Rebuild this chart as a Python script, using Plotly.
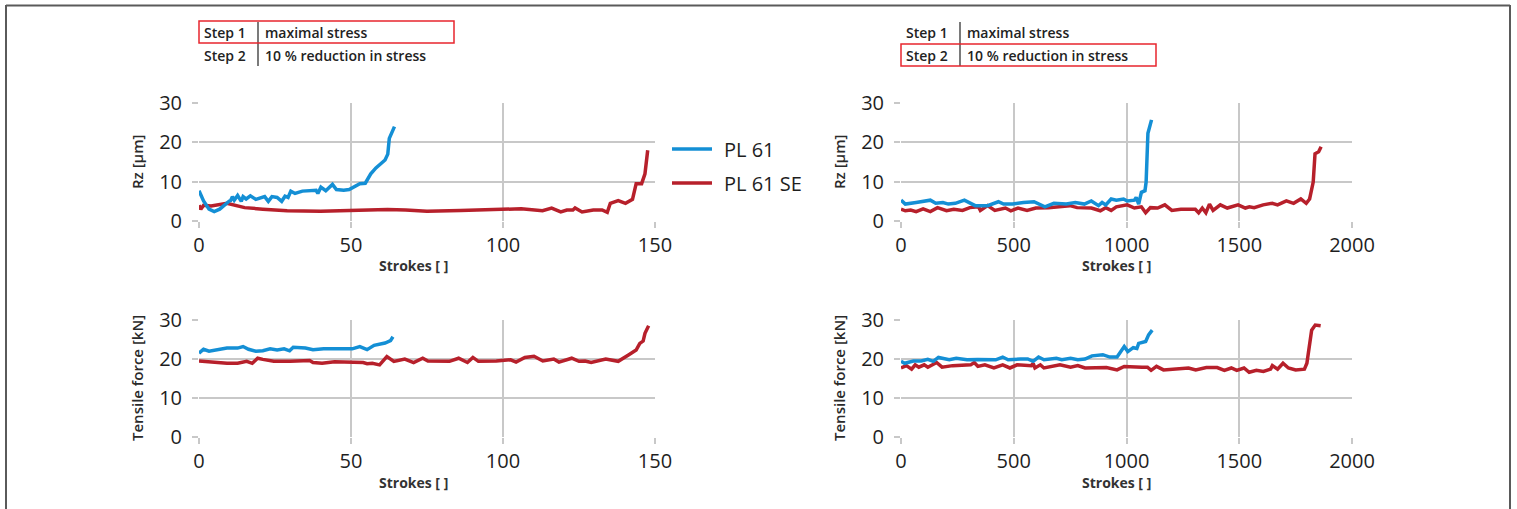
import plotly.graph_objects as go

W, H = 1517, 509
BLUE = "#148fd5"
RED = "#b7202b"
GRID = "#c8c8c8"
TXT = "#1e1e1e"
FONT = "Open Sans"

# ---------------- data: Step 1 (maximal stress) ----------------
rz1_pl61_x = [0, 1.5, 3.3, 5, 6.8, 8.6, 10, 10.4, 11.0, 11.6, 12.7, 13.9, 14.5, 15.5, 16.9, 18.7, 20.5, 21.6,
              22.8, 24, 25.7, 27.2, 28.3, 29.3, 30.2, 31.6, 34, 36.4, 38.5, 39.1, 40.1, 41.7, 43.9, 45.2,
              47.6, 49.4, 51.7, 52.9, 54.7, 56.5, 58.2, 61.2, 62.1, 62.6, 64.3]
rz1_pl61_y = [7.7, 5.1, 3.0, 2.4, 3.0, 4.3, 5.1, 5.2, 6.2, 5.3, 6.5, 5.0, 6.2, 5.6, 6.4, 5.5, 5.8, 6.2,
              5.0, 6.2, 6.0, 5.0, 6.3, 6.0, 7.6, 7.0, 7.6, 7.8, 7.8, 7.0, 8.6, 7.7, 9.3, 8.0,
              7.8, 8.0, 9.0, 9.5, 9.6, 12.0, 13.5, 15.5, 17.0, 21.0, 24.0]

rz1_se_x = [0, 0.6, 1.5, 4, 9.2, 15, 21, 29, 40, 50, 56, 62, 68, 75, 86, 92, 100, 106, 113, 116, 119,
            121, 123, 123.7, 126, 129.7, 132.6, 134.3, 135.3, 137.9, 140.3, 142.6, 143.8, 145.6, 146.7, 147.6]
rz1_se_y = [4.0, 3.0, 4.0, 3.8, 4.5, 3.4, 3.0, 2.6, 2.5, 2.7, 3.0, 2.9, 2.8, 2.5, 2.7, 2.8, 3.1, 3.1, 2.6, 3.3, 2.3,
            2.8, 2.8, 3.3, 2.3, 2.8, 2.8, 2.2, 4.5, 5.2, 4.5, 5.5, 9.5, 9.5, 12.0, 18.0]

tf1_pl61_x = [0, 1.5, 3.3, 4.5, 6.8, 9.2, 12.7, 14.5, 16.3, 18.7, 21, 23.4, 25.7, 28, 29.8, 31, 35,
              37.5, 41, 44.6, 48, 50.4, 52.9, 55.3, 57.6, 61.2, 63, 63.8]
tf1_pl61_y = [21.5, 22.5, 22.0, 22.2, 22.5, 22.8, 22.8, 23.2, 22.5, 22.0, 22.1, 22.6, 22.3, 22.6, 22.1, 23.0, 22.8,
              22.4, 22.6, 22.6, 22.5, 22.6, 23.2, 22.4, 23.5, 24.1, 24.7, 25.7]

tf1_se_x = [0, 4.5, 9.2, 12.7, 15.7, 17.5, 19.3, 21, 24.6, 30, 36.4, 37.5, 40.5, 44.6, 49.4, 54, 55.3, 57,
            59.4, 61.8, 64.1, 67.7, 70.6, 73.6, 75.3, 80, 82.4, 85.4, 88.3, 90.1, 91.9, 97.8, 102.5, 104.3,
            107.2, 110.2, 113.1, 116.7, 118.4, 122.6, 125, 127, 129, 133.8, 137.9, 141.4, 143.8, 145, 146.1,
            146.7, 147.9]
tf1_se_y = [19.5, 19.2, 18.9, 18.9, 19.4, 18.9, 20.2, 19.9, 19.4, 19.4, 19.6, 19.1, 18.9, 19.3, 19.1, 19.1, 18.8, 18.9,
            18.5, 20.6, 19.4, 20.0, 19.1, 20.2, 19.5, 19.4, 19.4, 20.2, 19.1, 20.4, 19.4, 19.5, 19.8, 19.2,
            20.4, 20.7, 19.5, 20.0, 19.2, 20.2, 19.4, 19.5, 19.1, 20.0, 19.4, 21.1, 22.3, 24.0, 24.6,
            26.6, 28.5]

# ---------------- data: Step 2 (10 % reduction in stress) ----------------
rz2_pl61_x = [0, 19, 67, 114, 130, 154, 186, 210, 241, 281, 305, 329, 384, 432, 455, 495, 543, 590, 638, 678,
              733, 773, 813, 844, 876, 892, 908, 932, 955, 987, 1003, 1035, 1043, 1054, 1066, 1082, 1087, 1095, 1111]
rz2_pl61_y = [5.3, 4.3, 4.7, 5.1, 5.3, 4.5, 4.7, 4.3, 4.5, 5.3, 4.7, 3.9, 3.9, 4.9, 4.3, 4.3, 4.7, 4.9, 3.6, 4.5,
              4.3, 4.7, 4.3, 5.1, 3.9, 4.7, 4.1, 5.6, 5.3, 5.6, 5.1, 5.3, 6.0, 4.3, 7.3, 7.7, 9.9, 22.3, 25.7]

rz2_se_x = [0, 19, 43, 67, 98, 130, 162, 202, 234, 273, 305, 344, 352, 384, 416, 463, 487, 519, 559, 598, 654,
            717, 749, 781, 844, 884, 908, 932, 955, 1003, 1035, 1066, 1085, 1106, 1138, 1170, 1201, 1241, 1305,
            1320, 1336, 1352, 1368, 1384, 1416, 1447, 1495, 1527, 1545, 1566, 1606, 1646, 1670, 1709, 1741,
            1773, 1797, 1812, 1828, 1836, 1852, 1863]
rz2_se_y = [3.0, 2.6, 2.8, 2.4, 3.1, 2.4, 3.4, 2.6, 3.0, 2.7, 3.4, 3.6, 2.7, 3.9, 2.7, 3.3, 2.6, 3.3, 2.7, 3.3, 3.4,
            3.6, 3.9, 3.4, 3.3, 2.6, 3.4, 2.7, 3.6, 4.1, 3.3, 3.6, 2.1, 3.4, 3.3, 4.1, 2.7, 3.0, 3.0,
            2.1, 3.3, 2.1, 4.3, 2.7, 4.1, 3.3, 4.1, 3.3, 3.6, 3.4, 4.1, 4.5, 4.1, 5.1, 4.5,
            5.6, 4.5, 5.6, 9.9, 17.1, 17.6, 18.9]

tf2_pl61_x = [0, 16, 55, 90, 119, 143, 166, 214, 245, 293, 340, 420, 451, 475, 530, 562, 586, 610, 634, 689,
              713, 752, 784, 816, 847, 895, 926, 958, 990, 1006, 1030, 1046, 1054, 1085, 1098, 1114]
tf2_pl61_y = [19.4, 18.9, 19.5, 19.5, 19.9, 19.4, 20.4, 19.8, 20.2, 19.8, 19.9, 19.8, 20.5, 19.8, 20.0, 20.0, 19.4, 20.5, 19.8, 20.2,
              19.8, 20.2, 19.8, 20.0, 20.8, 21.1, 20.5, 20.5, 23.2, 21.9, 22.9, 22.7, 24.0, 24.5, 26.2, 27.4]

tf2_se_x = [0, 24, 47, 63, 79, 103, 119, 158, 182, 229, 309, 325, 341, 372, 412, 451, 483, 515, 578, 586, 594,
            618, 634, 689, 705, 752, 784, 816, 911, 958, 990, 1069, 1093, 1109, 1133, 1164, 1228, 1275, 1307,
            1354, 1402, 1434, 1465, 1489, 1521, 1544, 1576, 1607, 1639, 1647, 1670, 1694, 1718, 1750, 1789,
            1800, 1821, 1837, 1861]
tf2_se_y = [17.7, 18.3, 17.4, 18.5, 17.9, 18.5, 17.9, 19.1, 17.9, 18.3, 18.5, 19.1, 18.1, 18.5, 17.7, 18.5, 17.7, 18.5, 18.3, 18.9, 17.7,
            18.5, 17.7, 18.3, 18.5, 17.9, 18.3, 17.7, 17.8, 17.2, 18.1, 17.9, 17.9, 17.1, 18.1, 17.2, 17.4, 17.7, 17.2,
            17.8, 17.8, 17.1, 17.7, 17.1, 17.7, 16.6, 17.1, 16.8, 17.4, 18.3, 17.4, 18.9, 17.7, 17.2, 17.4,
            18.9, 27.4, 28.7, 28.5]

names = ["PL 61", "PL 61 SE"]
colors = [BLUE, RED]
step_rows = [("Step 1", "maximal stress"), ("Step 2", "10 % reduction in stress")]
y_ticks = [0, 10, 20, 30]
x1_ticks = [0, 50, 100, 150]
x2_ticks = [0, 500, 1000, 1500, 2000]


def px(x):
    return x / W


def py(y):
    return 1 - y / H


fig = go.Figure()

panels = [
    ("x", "y", rz1_pl61_x, rz1_pl61_y, rz1_se_x, rz1_se_y),
    ("x2", "y2", rz2_pl61_x, rz2_pl61_y, rz2_se_x, rz2_se_y),
    ("x3", "y3", tf1_pl61_x, tf1_pl61_y, tf1_se_x, tf1_se_y),
    ("x4", "y4", tf2_pl61_x, tf2_pl61_y, tf2_se_x, tf2_se_y),
]
for xa, ya, bx, by, rx, ry in panels:
    fig.add_trace(go.Scatter(x=rx, y=ry, mode="lines", name=names[1], xaxis=xa, yaxis=ya,
                             line=dict(color=RED, width=3.5), showlegend=False))
    fig.add_trace(go.Scatter(x=bx, y=by, mode="lines", name=names[0], xaxis=xa, yaxis=ya,
                             line=dict(color=BLUE, width=3.5), showlegend=False))

LX = [px(199), px(655)]
RX = [px(901), px(1352)]
TY = [py(221), py(103)]
BY = [py(437), py(320)]

tickfont = dict(size=20, color=TXT, family=FONT, weight=500)
common_x = dict(showgrid=True, gridcolor=GRID, gridwidth=2, zeroline=False, showline=False,
                ticks="outside", ticklen=6, tickcolor=GRID, tickwidth=2,
                tickfont=tickfont, fixedrange=True)
common_y = dict(showgrid=True, gridcolor=GRID, gridwidth=2, zeroline=False, showline=False,
                ticks="outside", ticklen=6, tickcolor=GRID, tickwidth=2, range=[0, 30],
                tickvals=y_ticks, tickfont=tickfont, fixedrange=True,
                ticklabelstandoff=6)

fig.update_layout(
    width=W, height=H,
    margin=dict(l=0, r=0, t=0, b=0, pad=0, autoexpand=False),
    paper_bgcolor="white", plot_bgcolor="white",
    font=dict(family=FONT, color=TXT),
    showlegend=False,
    xaxis=dict(domain=LX, anchor="y", range=[0, 150], tickvals=x1_ticks, **common_x),
    yaxis=dict(domain=TY, anchor="x", **common_y),
    xaxis2=dict(domain=RX, anchor="y2", range=[0, 2000], tickvals=x2_ticks, **common_x),
    yaxis2=dict(domain=TY, anchor="x2", **common_y),
    xaxis3=dict(domain=LX, anchor="y3", range=[0, 150], tickvals=x1_ticks, **common_x),
    yaxis3=dict(domain=BY, anchor="x3", **common_y),
    xaxis4=dict(domain=RX, anchor="y4", range=[0, 2000], tickvals=x2_ticks, **common_x),
    yaxis4=dict(domain=BY, anchor="x4", **common_y),
)

ann = []
shapes = []

# legend (drawn manually so the sample lines match the reference length)
for i, (nm, col) in enumerate(zip(names, colors)):
    ly = 149 + 34 * i
    shapes.append(dict(type="line", xref="paper", yref="paper", x0=px(672), x1=px(712),
                       y0=py(ly), y1=py(ly), line=dict(color=col, width=3.5)))
    ann.append(dict(x=px(722), y=py(ly), xref="paper", yref="paper", text=nm, xanchor="left",
                    yanchor="middle", showarrow=False,
                    font=dict(size=20, color=TXT, family=FONT, weight=500)))

# axis titles
for cx, cy, t in [(137, 162, "Rz [µm]"), (839, 162, "Rz [µm]"),
                  (137, 378, "Tensile force [kN]"), (839, 378, "Tensile force [kN]")]:
    ann.append(dict(x=px(cx), y=py(cy), xref="paper", yref="paper", text=t, textangle=-90,
                    xanchor="center", yanchor="middle", showarrow=False,
                    font=dict(size=15, color="#2a2a2a", family=FONT, weight=600)))
for cx, cy in [(413, 265), (1116, 265), (413, 482), (1116, 482)]:
    ann.append(dict(x=px(cx), y=py(cy), xref="paper", yref="paper", text="Strokes [ ]",
                    xanchor="center", yanchor="middle", showarrow=False,
                    font=dict(size=14, color="#333333", family=FONT, weight=700)))

# step tables
for x0, boxrow in [(199, 0), (901, 1)]:
    sep = x0 + 59
    for i, (a, b) in enumerate(step_rows):
        yy = 32 + 23 * i
        ann.append(dict(x=px(x0 + 3), y=py(yy), xref="paper", yref="paper", text=a,
                        xanchor="left", yanchor="middle", showarrow=False,
                        font=dict(size=14, color="#222222", family=FONT, weight=600)))
        ann.append(dict(x=px(sep + 5), y=py(yy), xref="paper", yref="paper", text=b,
                        xanchor="left", yanchor="middle", showarrow=False,
                        font=dict(size=14, color="#222222", family=FONT, weight=600)))
    shapes.append(dict(type="line", xref="paper", yref="paper", x0=px(sep), x1=px(sep),
                       y0=py(22), y1=py(66), line=dict(color="#222222", width=1.2)))
    by0 = 21 + 23 * boxrow
    shapes.append(dict(type="rect", xref="paper", yref="paper", x0=px(x0), x1=px(x0 + 255),
                       y0=py(by0), y1=py(by0 + 22), line=dict(color="#e8262e", width=1.5)))

# outer frame
shapes.append(dict(type="line", xref="paper", yref="paper", x0=px(6), x1=px(1510), y0=py(5.5), y1=py(5.5),
                   line=dict(color="#5a5a5a", width=2)))
shapes.append(dict(type="line", xref="paper", yref="paper", x0=px(6), x1=px(6), y0=py(5), y1=py(509),
                   line=dict(color="#5a5a5a", width=2)))
shapes.append(dict(type="line", xref="paper", yref="paper", x0=px(1510), x1=px(1510), y0=py(5), y1=py(509),
                   line=dict(color="#5a5a5a", width=2)))

fig.update_layout(annotations=ann, shapes=shapes)
fig.write_html("out.html", config={"displayModeBar": False},
               post_script="document.body.style.margin='0';document.body.style.overflow='hidden';")
